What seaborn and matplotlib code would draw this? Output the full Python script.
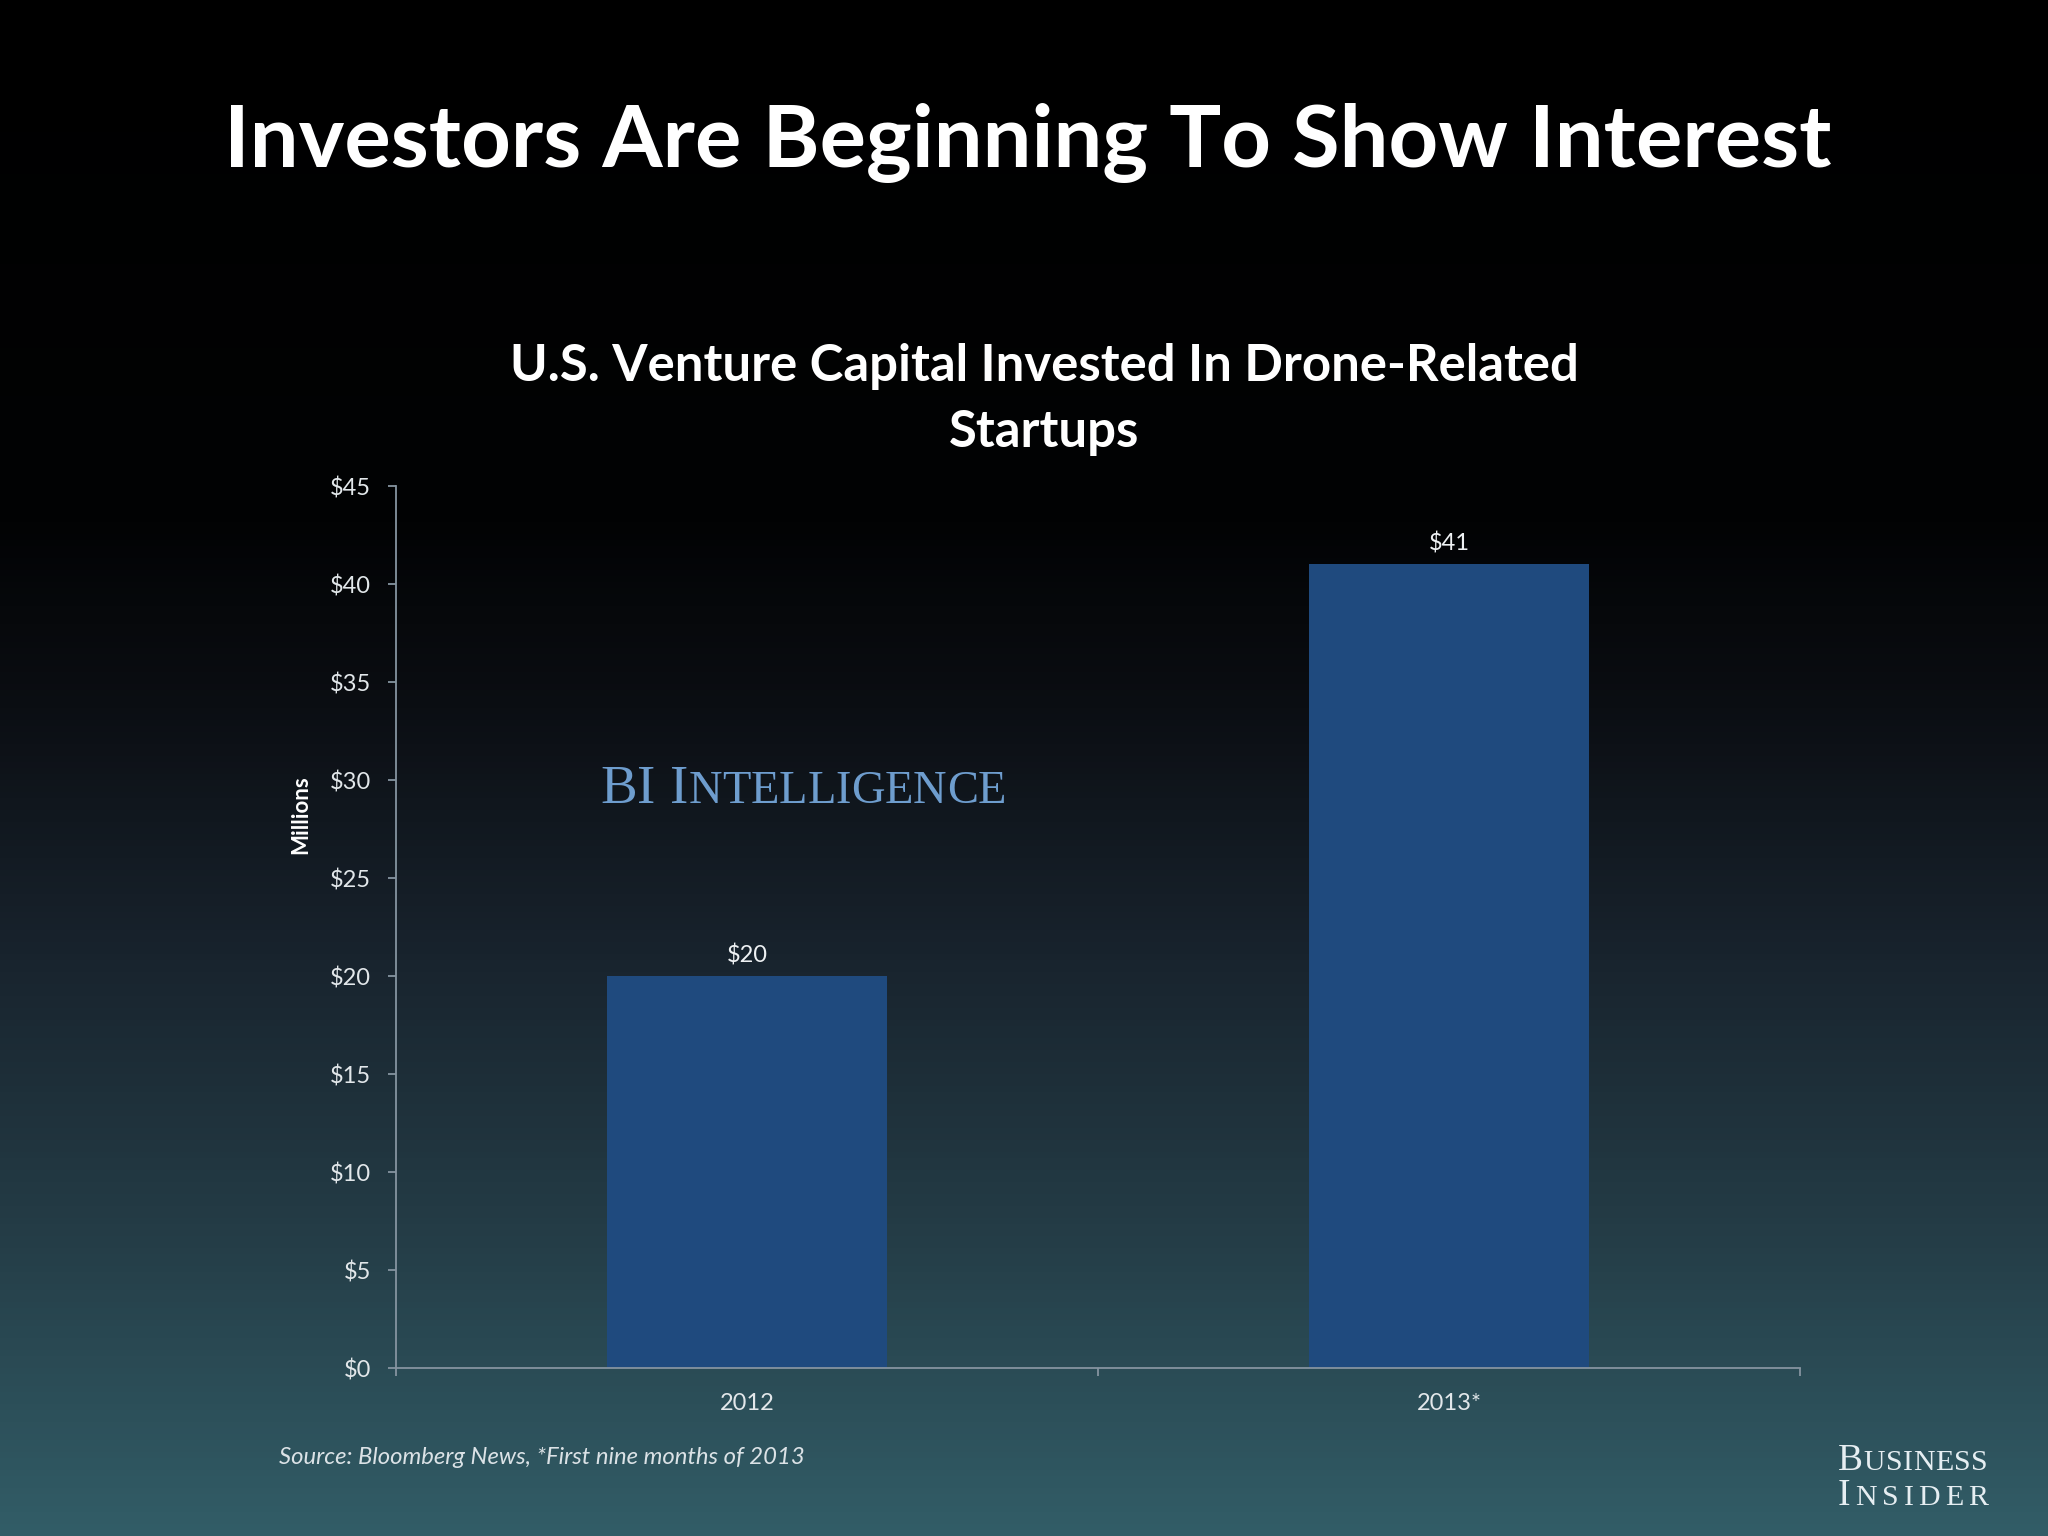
import matplotlib
matplotlib.use("Agg")
import matplotlib.pyplot as plt
import numpy as np
import pandas as pd
import seaborn as sns
from matplotlib.colors import LinearSegmentedColormap

# ---------------- data ----------------
years = ["2012", "2013*"]
invested = [20, 41]
bar_labels = ["$20", "$41"]
y_ticks = [0, 5, 10, 15, 20, 25, 30, 35, 40, 45]
y_tick_labels = ["$0", "$5", "$10", "$15", "$20", "$25", "$30", "$35", "$40", "$45"]
title = "Investors Are Beginning To Show Interest"
subtitle_lines = ["U.S. Venture Capital Invested In Drone-Related", "Startups"]
y_label = "Millions"
source = "Source: Bloomberg News, *First nine months of 2013"

# ---------------- style ----------------
sns.set_style("ticks")
plt.rcParams['font.family'] = ['Lato', 'DejaVu Sans']

W, H = 2048, 1536
fig = plt.figure(figsize=(W / 100, H / 100), dpi=100)
renderer = fig.canvas.get_renderer()

def fx(px):
    return px / W

def fy(py):
    return 1 - py / H

# background gradient
bg = fig.add_axes([0, 0, 1, 1], zorder=0)
stops = [(0.0, '#000000'), (0.34, '#020304'), (0.46, '#0b0e13'),
         (0.62, '#18232d'), (0.80, '#243c46'), (1.0, '#325d67')]
cmap = LinearSegmentedColormap.from_list('bg', stops)
grad = np.linspace(0, 1, 768).reshape(-1, 1)
bg.imshow(grad, aspect='auto', cmap=cmap, extent=[0, 1, 1, 0])
bg.set_xlim(0, 1); bg.set_ylim(1, 0)
bg.axis('off')

# main axes
ax = fig.add_axes([396 / W, 1 - 1368 / H, 1404 / W, 882 / H], zorder=1)
ax.set_facecolor('none')
df = pd.DataFrame({'year': years, 'invested': invested})
sns.barplot(data=df, x='year', y='invested', color='#1f4a7e', saturation=1,
            width=0.4, linewidth=0, edgecolor='#1f4a7e', ax=ax)
ax.set_xlim(-0.5, 1.5)
ax.set_ylim(0, 45)
ax.set_yticks(y_ticks)
ax.set_yticklabels(y_tick_labels)
ax.set_xlabel("")
ax.set_ylabel("")

spine_c = '#8594a0'
for s in ['top', 'right']:
    ax.spines[s].set_visible(False)
for s in ['left', 'bottom']:
    ax.spines[s].set_color(spine_c)
    ax.spines[s].set_linewidth(1.3)

ax.tick_params(axis='y', length=6, width=1.3, color=spine_c, pad=12,
               labelsize=17, labelcolor='#e2e7ea', direction='out')
ax.tick_params(axis='x', which='major', length=0, pad=18, labelsize=17,
               labelcolor='#e2e7ea')
ax.set_xticks([-0.5, 0.5, 1.5], minor=True)
ax.tick_params(axis='x', which='minor', length=6, width=1.3, color=spine_c,
               direction='out')
ax.grid(False)

ax.bar_label(ax.containers[0], labels=bar_labels, padding=7,
             color='#eef1f3', fontsize=17)

# titles
def fit_width(t, target_px):
    w = t.get_window_extent(renderer).width
    t.set_fontsize(t.get_fontsize() * target_px / w)

t_title = fig.text(fx(1028), fy(167), title, ha='center', va='baseline',
                   fontsize=58, fontweight='bold', color='white')
fit_width(t_title, 1605)

t_sub1 = fig.text(fx(1044), fy(381), subtitle_lines[0], ha='center',
                  va='baseline', fontsize=34, fontweight='bold', color='white')
fit_width(t_sub1, 1070)
fig.text(fx(1044), fy(447), subtitle_lines[1], ha='center', va='baseline',
         fontsize=t_sub1.get_fontsize(), fontweight='bold', color='white')

fig.text(fx(301), fy(815), y_label, rotation=90, ha='center', va='center',
         fontsize=16, fontweight='bold', color='white')

t_src = fig.text(fx(279), fy(1464), source, ha='left', va='baseline',
                 fontsize=15, fontstyle='italic', color='#dbe2e6')
fit_width(t_src, 529)

# small-caps logos
def small_caps(x0, y0, pieces, target_w, color, family, tracking_fit=False,
               weight='normal'):
    texts = []
    widths = []
    for ch, size in pieces:
        if ch == ' ':
            texts.append(None)
            widths.append(size * 0.28 * 100 / 72)
            continue
        t = fig.text(0, 0, ch, fontsize=size, family=family, color=color,
                     ha='left', va='baseline', fontweight=weight)
        texts.append(t)
        widths.append(t.get_window_extent(renderer).width)
    natural = sum(widths)
    n = len(pieces)
    if tracking_fit and n > 1:
        track = (target_w - natural) / (n - 1)
        scale = 1.0
    else:
        track = 0
        scale = target_w / natural
    x = x0
    for t, w in zip(texts, widths):
        if t is not None:
            if scale != 1.0:
                t.set_fontsize(t.get_fontsize() * scale)
            t.set_position((fx(x), fy(y0)))
        x += w * scale + track

serif = ['Liberation Serif', 'DejaVu Serif']
wm_c = '#6e9dce'
big, small = 36, 30.5
wm = [('B', big), ('I', big), (' ', big), ('I', big)] + [(c, small) for c in "NTELLIGENCE"]
small_caps(600, 803, wm, 406, wm_c, serif)

bi_c = '#e6eef2'
b1 = [('B', 27)] + [(c, 21.5) for c in "USINESS"]
b2 = [('I', 27)] + [(c, 21.5) for c in "NSIDER"]
small_caps(1838, 1470, b1, 150, bi_c, serif, tracking_fit=True)
small_caps(1838, 1505, b2, 150, bi_c, serif, tracking_fit=True)

fig.savefig("out.png", dpi=100)
